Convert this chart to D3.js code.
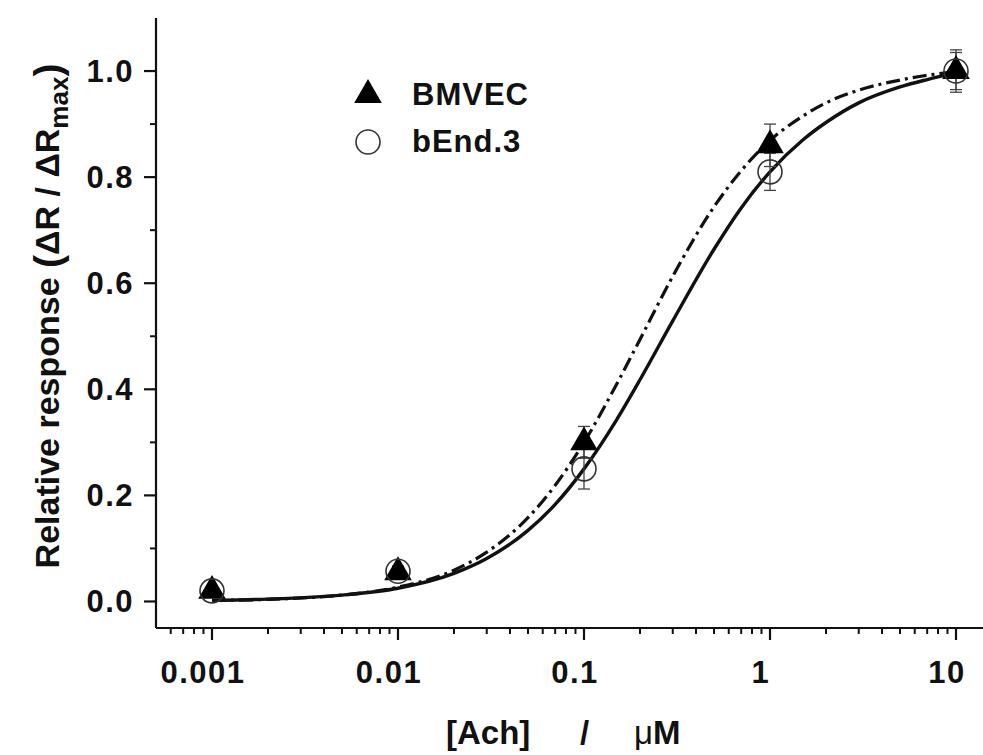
<!DOCTYPE html>
<html>
<head>
<meta charset="utf-8">
<script src="https://cdn.jsdelivr.net/npm/d3@7"></script>
<style>
  body { margin: 0; background: #fff; }
  text { font-family: "Liberation Sans", Arial, sans-serif; font-weight: bold; fill: #111; }
</style>
</head>
<body>
<div id="chart"></div>
<script>
// Concentrations and measured responses
const doses = [0.001, 0.01, 0.1, 1, 10];
const bmvecMean = [0.02, 0.055, 0.30, 0.86, 1.0];
const bmvecErr = [0.01, 0.01, 0.03, 0.04, 0.035];
const bend3Mean = [0.02, 0.057, 0.25, 0.81, 1.0];
const bend3Err = [0.01, 0.01, 0.038, 0.035, 0.04];

// Fitted curves
const curveX = [0.001, 0.002, 0.005, 0.01, 0.02, 0.03, 0.05, 0.07, 0.1, 0.15, 0.2, 0.3, 0.5, 0.7, 1, 1.5, 2, 3, 5, 7, 10];
const solidY = [0.002, 0.0044, 0.012, 0.025, 0.053, 0.081, 0.134, 0.183, 0.25, 0.343, 0.418, 0.529, 0.664, 0.742, 0.81, 0.87, 0.903, 0.940, 0.970, 0.984, 0.997];
const dashY = [0.0018, 0.004, 0.012, 0.027, 0.059, 0.093, 0.158, 0.219, 0.30, 0.41, 0.494, 0.613, 0.744, 0.812, 0.869, 0.915, 0.940, 0.964, 0.983, 0.992, 0.999];

const xMajor = [0.001, 0.01, 0.1, 1, 10];
const xMajorLabels = ["0.001", "0.01", "0.1", "1", "10"];
const yMajor = [0, 0.2, 0.4, 0.6, 0.8, 1.0];
const yMinor = [0.1, 0.3, 0.5, 0.7, 0.9];

const width = 983, height = 755;

const svg = d3.select("#chart").append("svg")
  .attr("width", width)
  .attr("height", height);

svg.append("rect").attr("width", width).attr("height", height).attr("fill", "#fff");

const x = d3.scaleLog().domain([0.0005, 10]).range([156, 956]);
const y = d3.scaleLinear().domain([-0.05, 1.1]).range([628, 18]);

/***********/
/*  Axes   */
/***********/
const xAxisG = svg.append("g").attr("transform", "translate(0,628)");

xAxisG.append("line")
  .attr("x1", 156).attr("x2", width)
  .attr("stroke", "#111").attr("stroke-width", 2.2);

const xMinor = x.ticks().filter(t => !xMajor.some(m => Math.abs(m - t) / m < 1e-6) && t > 0.0005);

xAxisG.selectAll(".xminor")
  .data(xMinor)
  .join("line")
    .attr("x1", d => x(d)).attr("x2", d => x(d))
    .attr("y1", 0).attr("y2", 6)
    .attr("stroke", "#111").attr("stroke-width", 2);

xAxisG.selectAll(".xmajor")
  .data(xMajor)
  .join("line")
    .attr("x1", d => x(d)).attr("x2", d => x(d))
    .attr("y1", 0).attr("y2", 12)
    .attr("stroke", "#111").attr("stroke-width", 2.2);

xAxisG.selectAll(".xlabel")
  .data(xMajor)
  .join("text")
    .attr("x", d => x(d) - 9)
    .attr("y", 55)
    .attr("text-anchor", "middle")
    .attr("font-size", 31)
    .attr("letter-spacing", 1.5)
    .text((d, i) => xMajorLabels[i]);

const yAxisG = svg.append("g").attr("transform", "translate(156,0)");

yAxisG.append("line")
  .attr("y1", 628).attr("y2", 18)
  .attr("stroke", "#111").attr("stroke-width", 2.2);

yAxisG.selectAll(".yminor")
  .data(yMinor)
  .join("line")
    .attr("y1", d => y(d)).attr("y2", d => y(d))
    .attr("x1", 0).attr("x2", -6)
    .attr("stroke", "#111").attr("stroke-width", 2);

yAxisG.selectAll(".ymajor")
  .data(yMajor)
  .join("line")
    .attr("y1", d => y(d)).attr("y2", d => y(d))
    .attr("x1", 0).attr("x2", -12)
    .attr("stroke", "#111").attr("stroke-width", 2.2);

yAxisG.selectAll(".ylabel")
  .data(yMajor)
  .join("text")
    .attr("x", -22)
    .attr("y", d => y(d) + 11)
    .attr("text-anchor", "end")
    .attr("font-size", 31)
    .attr("letter-spacing", 1.5)
    .text(d => d3.format(".1f")(d));

// Axis titles
const xTitle = svg.append("text")
  .attr("y", 744)
  .attr("font-size", 33);
xTitle.append("tspan").attr("x", 446).text("[Ach]");
xTitle.append("tspan").attr("x", 580).text("/");
xTitle.append("tspan").attr("x", 634).attr("font-weight", "normal").text("μ");
xTitle.append("tspan").text("M");

const yTitle = svg.append("text")
  .attr("transform", "translate(59,316) rotate(-90)")
  .attr("text-anchor", "middle")
  .attr("font-size", 34);
yTitle.append("tspan").text("Relative response ");
yTitle.append("tspan").attr("font-size", 39).attr("dy", 2).text("(");
yTitle.append("tspan").attr("dy", -2).text("ΔR / ΔR");
yTitle.append("tspan").attr("font-size", 26).attr("dy", 9).text("max");
yTitle.append("tspan").attr("font-size", 39).attr("dy", -7).text(")");

/************/
/*  Curves  */
/************/
const lineGen = yVals => d3.line()
  .x((d, i) => x(curveX[i]))
  .y(d => y(d))
  .curve(d3.curveMonotoneX)(yVals);

svg.append("path")
  .attr("d", lineGen(dashY))
  .attr("fill", "none")
  .attr("stroke", "#111")
  .attr("stroke-width", 3.2)
  .attr("stroke-dasharray", "14,5,3,5");

svg.append("path")
  .attr("d", lineGen(solidY))
  .attr("fill", "none")
  .attr("stroke", "#111")
  .attr("stroke-width", 3.4);

/****************/
/*  Error bars  */
/****************/
const drawErrors = (means, errs) => {
  const g = svg.append("g").attr("stroke", "#444").attr("stroke-width", 1.3);
  doses.forEach((d, i) => {
    const cx = x(d);
    const top = y(means[i] + errs[i]);
    const bot = y(means[i] - errs[i]);
    g.append("line").attr("x1", cx).attr("x2", cx).attr("y1", top).attr("y2", bot);
    g.append("line").attr("x1", cx - 6).attr("x2", cx + 6).attr("y1", top).attr("y2", top);
    g.append("line").attr("x1", cx - 6).attr("x2", cx + 6).attr("y1", bot).attr("y2", bot);
  });
};
drawErrors(bmvecMean, bmvecErr);
drawErrors(bend3Mean, bend3Err);

/*************/
/*  Markers  */
/*************/
const triangle = d3.symbol().type(d3.symbolTriangle).size(330);

svg.selectAll(".tri")
  .data(doses)
  .join("path")
    .attr("d", triangle)
    .attr("transform", (d, i) => `translate(${x(d)},${y(bmvecMean[i])})`)
    .attr("fill", "#000");

svg.selectAll(".circ")
  .data(doses)
  .join("circle")
    .attr("cx", d => x(d))
    .attr("cy", (d, i) => y(bend3Mean[i]))
    .attr("r", 12)
    .attr("fill", "none")
    .attr("stroke", "#333")
    .attr("stroke-width", 1.6);

/************/
/*  Legend  */
/************/
svg.append("path")
  .attr("d", triangle)
  .attr("transform", "translate(368,95)")
  .attr("fill", "#000");

svg.append("circle")
  .attr("cx", 368).attr("cy", 142).attr("r", 12)
  .attr("fill", "none").attr("stroke", "#333").attr("stroke-width", 1.6);

svg.append("text")
  .attr("x", 412).attr("y", 105)
  .attr("font-size", 31)
  .attr("letter-spacing", 1)
  .text("BMVEC");

svg.append("text")
  .attr("x", 412).attr("y", 152)
  .attr("font-size", 31)
  .attr("letter-spacing", 1)
  .text("bEnd.3");
</script>
</body>
</html>
